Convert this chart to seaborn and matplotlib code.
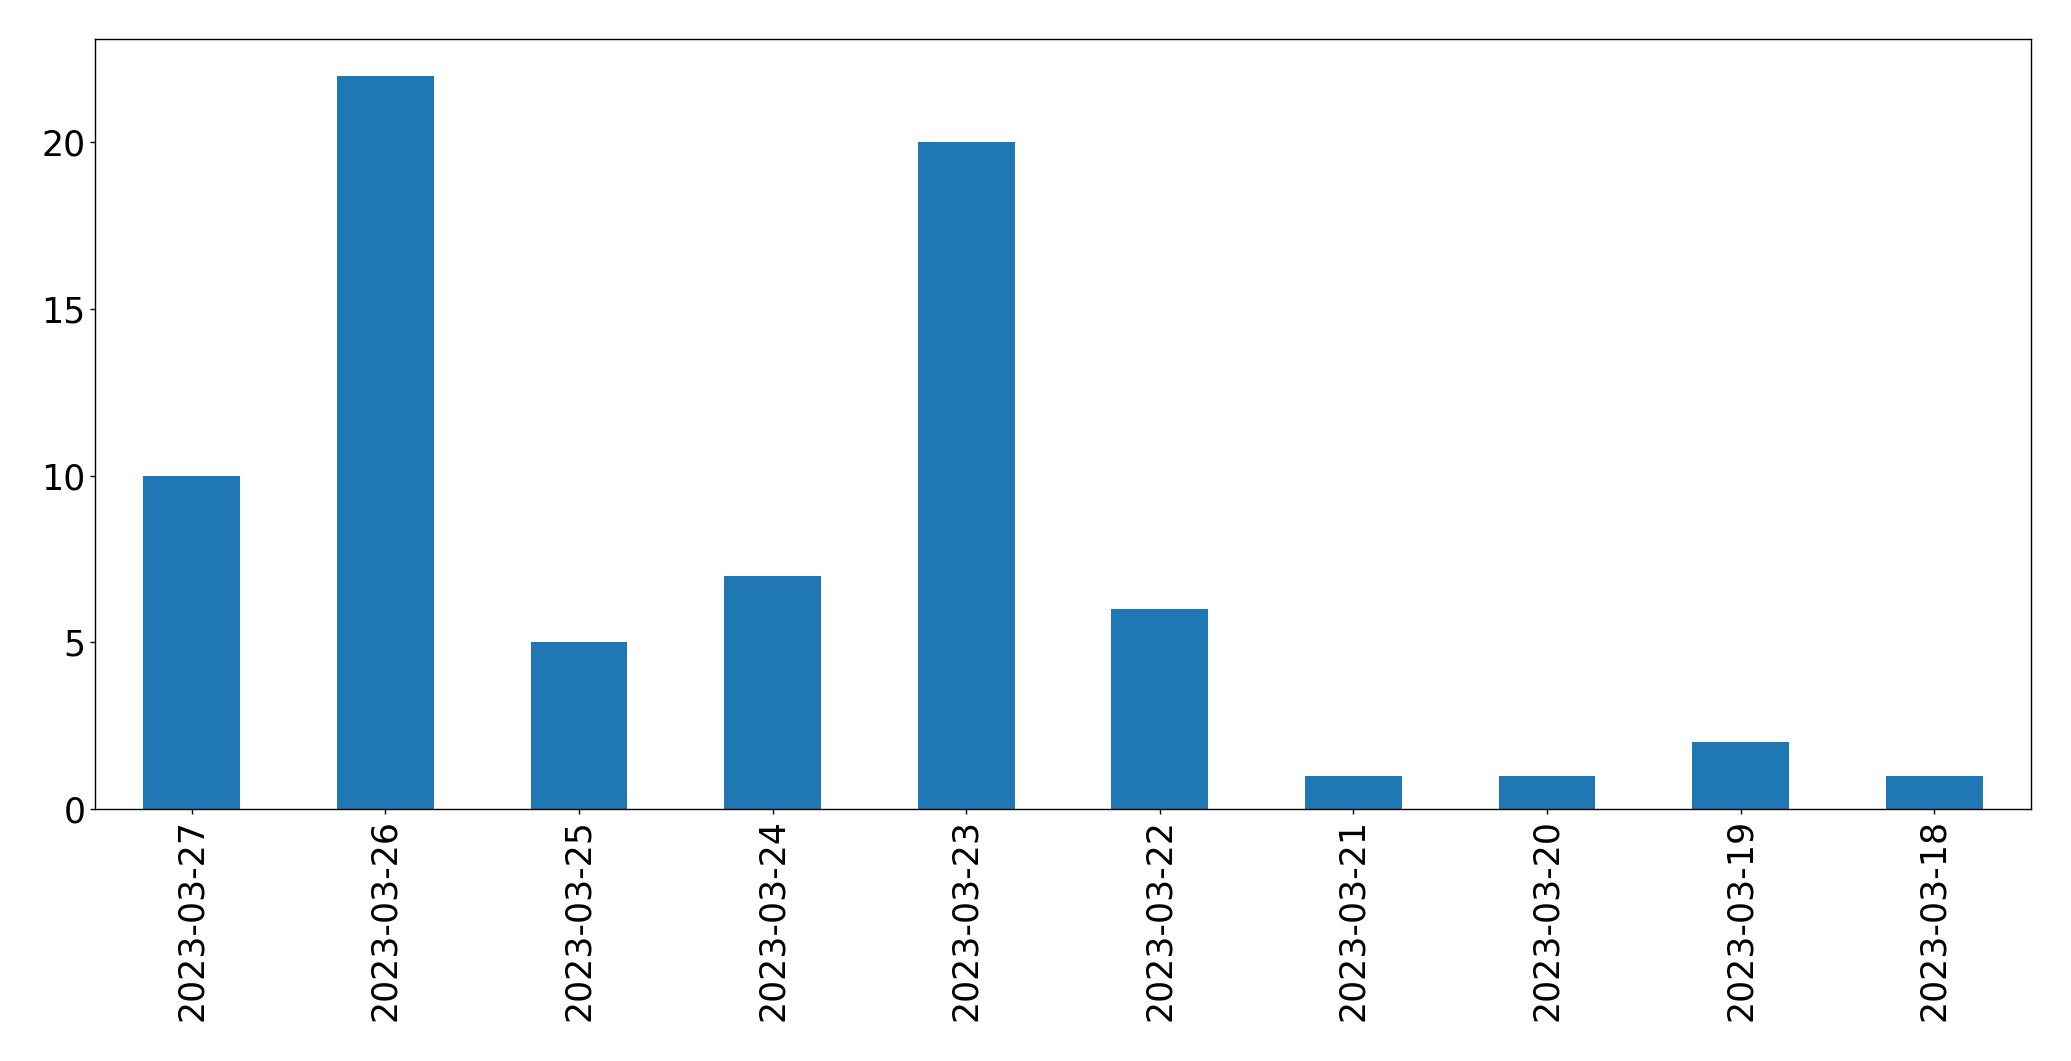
import matplotlib
matplotlib.use("Agg")
import matplotlib.pyplot as plt
import seaborn as sns
import pandas as pd

dates = ["2023-03-27", "2023-03-26", "2023-03-25", "2023-03-24", "2023-03-23",
         "2023-03-22", "2023-03-21", "2023-03-20", "2023-03-19", "2023-03-18"]
counts = [10, 22, 5, 7, 20, 6, 1, 1, 2, 1]

plt.rcParams['font.family'] = ['DejaVu Sans']

df = pd.DataFrame({"date": dates, "count": counts})
fig = plt.figure(figsize=(20.71, 10.61), dpi=100)
ax = fig.add_axes([95/2071, 1 - 809/1061, (2031-95)/2071, (809-39)/1061])
sns.barplot(data=df, x="date", y="count", order=dates, color="#1f77b4",
            saturation=1, width=0.5, ax=ax)
ax.set_xlim(-0.5, len(dates) - 0.5)
ax.set_xlabel("")
ax.set_ylabel("")
ax.tick_params(axis='both', labelsize=25, length=3.5, width=1, colors="black")
ax.tick_params(axis='x', labelrotation=90)
for s in ax.spines.values():
    s.set_visible(True)
    s.set_color("black")
    s.set_linewidth(1)
fig.savefig("out.png", dpi=100)
